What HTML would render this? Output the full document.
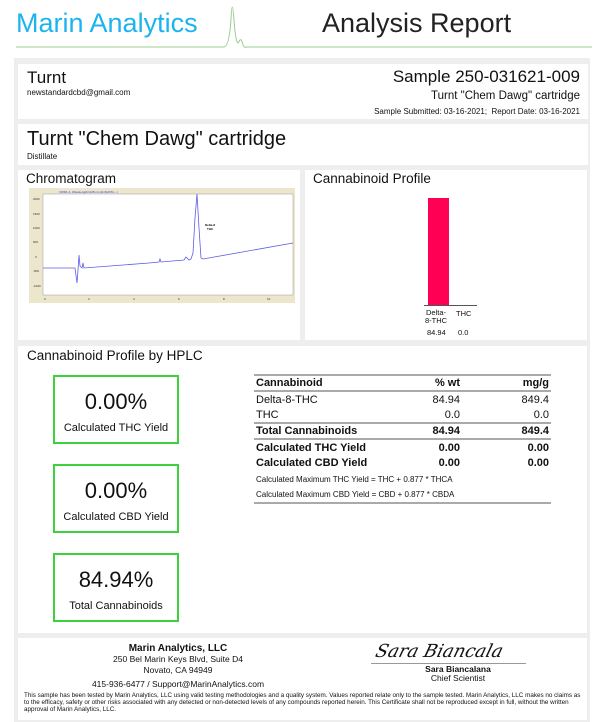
<!DOCTYPE html>
<html><head><meta charset="utf-8"><style>
*{margin:0;padding:0;box-sizing:border-box}
body{width:600px;height:722px;background:#fff;font-family:"Liberation Sans",Arial,sans-serif;color:#111;position:relative;overflow:hidden}
.a{position:absolute}
.card{position:absolute;background:#fff}
.gb{border:2px solid #3ed13e;position:absolute;left:53px;width:126px;height:69px;text-align:center}
.gb .v{font-size:22px;margin-top:12px}
.gb .l{font-size:11px;margin-top:7px}
table{border-collapse:collapse;font-size:11px}
td{padding:0 2px;height:16px}
.r{text-align:right}
</style></head><body>
<div class="a" style="left:16px;top:8px;font-size:27px;color:#1cb4ef">Marin Analytics</div>
<div class="a" style="left:322px;top:8px;font-size:27px;color:#222">Analysis Report</div>
<svg class="a" style="left:0;top:0" width="600" height="60">
<path d="M16 47 H224 Q229 47 231 20 Q232 -6 234 20 Q236 47 239 42 Q241 36 243 45 Q244 48 247 47 H592" stroke="#9ccc8c" stroke-width="1" fill="none"/>
</svg>
<div class="a" style="left:14px;top:58px;width:576px;height:664px;background:#eeeeee"></div>

<div class="card" style="left:18px;top:64px;width:570px;height:55px">
<div class="a" style="left:9px;top:4px;font-size:17px">Turnt</div>
<div class="a" style="left:9px;top:24px;font-size:8px">newstandardcbd@gmail.com</div>
<div class="a" style="right:8px;top:3px;font-size:17px">Sample 250-031621-009</div>
<div class="a" style="right:8px;top:26px;font-size:11.5px">Turnt "Chem Dawg" cartridge</div>
<div class="a" style="right:8px;top:43px;font-size:8px">Sample Submitted: 03-16-2021;&nbsp; Report Date: 03-16-2021</div>
</div>
<div class="card" style="left:18px;top:124px;width:570px;height:41px">
<div class="a" style="left:9px;top:4px;font-size:20px">Turnt "Chem Dawg" cartridge</div>
<div class="a" style="left:9px;top:28px;font-size:8px">Distillate</div>
</div>

<div class="card" style="left:18px;top:170px;width:282px;height:170px">
<div class="a" style="left:8px;top:1px;font-size:13.5px">Chromatogram</div>
<svg class="a" style="left:11px;top:18px" width="266" height="115" viewBox="0 0 266 115">
<rect width="266" height="115" fill="#ece6cc"/>
<rect x="14" y="6" width="250" height="101" fill="#fff" stroke="#999" stroke-width="0.5"/>
<text x="30" y="5" font-size="3" fill="#33f">VWD1 A, Wavelength=228 nm (E:\DATA\\...)</text>
<g font-size="3" fill="#333"><text x="4" y="12">2000</text><text x="4" y="27">1500</text><text x="4" y="41">1000</text><text x="4" y="55">500</text><text x="6" y="70">0</text><text x="4" y="84">-500</text><text x="4" y="99">-1000</text>
<text x="15" y="112">0</text><text x="59" y="112">2</text><text x="104" y="112">4</text><text x="149" y="112">6</text><text x="194" y="112">8</text><text x="238" y="112">10</text></g>
<path d="M14 80 L46 80 L48 95 L49 82 L50 67 L51 78 L53 80 L54 75 L55 80 L120 75 L130 74 L131 71 L132 74 L155 72 L157 69 L160 72 L162 71 L164 65 L166 30 L168 6 L170 40 L172 70 L174 71 L264 55" fill="none" stroke="#5c5ce6" stroke-width="0.8"/>
<text x="176" y="38" font-size="3" font-weight="bold">Delta-8</text><text x="178" y="42" font-size="3" font-weight="bold">THC</text>
</svg>
</div>

<div class="card" style="left:305px;top:170px;width:282px;height:170px">
<div class="a" style="left:8px;top:1px;font-size:13.5px">Cannabinoid Profile</div>
<div class="a" style="left:123px;top:28px;width:21px;height:107px;background:#ff0055"></div>
<div class="a" style="left:119px;top:135px;width:53px;height:1px;background:#555"></div>
<div class="a" style="left:116px;top:139px;font-size:7.5px;line-height:8px;text-align:center;width:30px">Delta-<br>8-THC</div>
<div class="a" style="left:151px;top:139px;font-size:7.5px">THC</div>
<div class="a" style="left:122px;top:158px;font-size:7.5px">84.94</div>
<div class="a" style="left:153px;top:158px;font-size:7.5px">0.0</div>
</div>

<div class="card" style="left:18px;top:346px;width:569px;height:287px">
<div class="a" style="left:9px;top:2px;font-size:13.5px">Cannabinoid Profile by HPLC</div>
</div>
<div class="gb" style="top:375px"><div class="v">0.00%</div><div class="l">Calculated THC Yield</div></div>
<div class="gb" style="top:464px"><div class="v">0.00%</div><div class="l">Calculated CBD Yield</div></div>
<div class="gb" style="top:553px"><div class="v">84.94%</div><div class="l">Total Cannabinoids</div></div>

<div class="a" style="left:254px;top:374px;width:297px">
<table style="width:297px">
<colgroup><col style="width:150px"><col style="width:58px"><col></colgroup>
<tr style="border-top:2px solid #aaa;border-bottom:2px solid #aaa;font-weight:bold"><td>Cannabinoid</td><td class="r">% wt</td><td class="r">mg/g</td></tr>
<tr><td>Delta-8-THC</td><td class="r">84.94</td><td class="r">849.4</td></tr>
<tr style="border-bottom:2px solid #aaa"><td>THC</td><td class="r">0.0</td><td class="r">0.0</td></tr>
<tr style="border-bottom:2px solid #aaa;font-weight:bold"><td>Total Cannabinoids</td><td class="r">84.94</td><td class="r">849.4</td></tr>
<tr style="font-weight:bold"><td>Calculated THC Yield</td><td class="r">0.00</td><td class="r">0.00</td></tr>
<tr style="font-weight:bold"><td>Calculated CBD Yield</td><td class="r">0.00</td><td class="r">0.00</td></tr>
<tr style="font-size:8px"><td colspan="3">Calculated Maximum THC Yield = THC + 0.877 * THCA</td></tr>
<tr style="font-size:8px;border-bottom:2px solid #aaa"><td colspan="3">Calculated Maximum CBD Yield = CBD + 0.877 * CBDA</td></tr>
</table>
</div>

<div class="card" style="left:18px;top:638px;width:569px;height:82px">
<div class="a" style="left:60px;top:5px;width:200px;text-align:center;font-size:10px;line-height:11px"><b>Marin Analytics, LLC</b><br><span style="font-size:8.5px">250 Bel Marin Keys Blvd, Suite D4<br>Novato, CA 94949</span><br><span style="font-size:8.5px;line-height:16px">415-936-6477 / Support@MarinAnalytics.com</span></div>
<div class="a" style="left:358px;top:3px;font-family:'DejaVu Serif',serif;font-style:italic;font-size:18px;transform:skewX(-15deg)">Sara Biancala</div>
<div class="a" style="left:353px;top:25px;width:155px;height:1px;background:#999"></div>
<div class="a" style="left:390px;top:27px;width:100px;text-align:center;font-size:8.5px;line-height:9px"><b>Sara Biancalana</b><br>Chief Scientist</div>
<div class="a" style="left:6px;top:54px;width:560px;font-size:6.3px;line-height:7px">This sample has been tested by Marin Analytics, LLC using valid testing methodologies and a quality system.  Values reported relate only to the sample tested.  Marin Analytics, LLC makes no claims as to the efficacy, safety or other risks associated with any detected or non-detected levels of any compounds reported herein.  This Certificate shall not be reproduced except in full, without the written approval of Marin Analytics, LLC.</div>
</div>
</body></html>
